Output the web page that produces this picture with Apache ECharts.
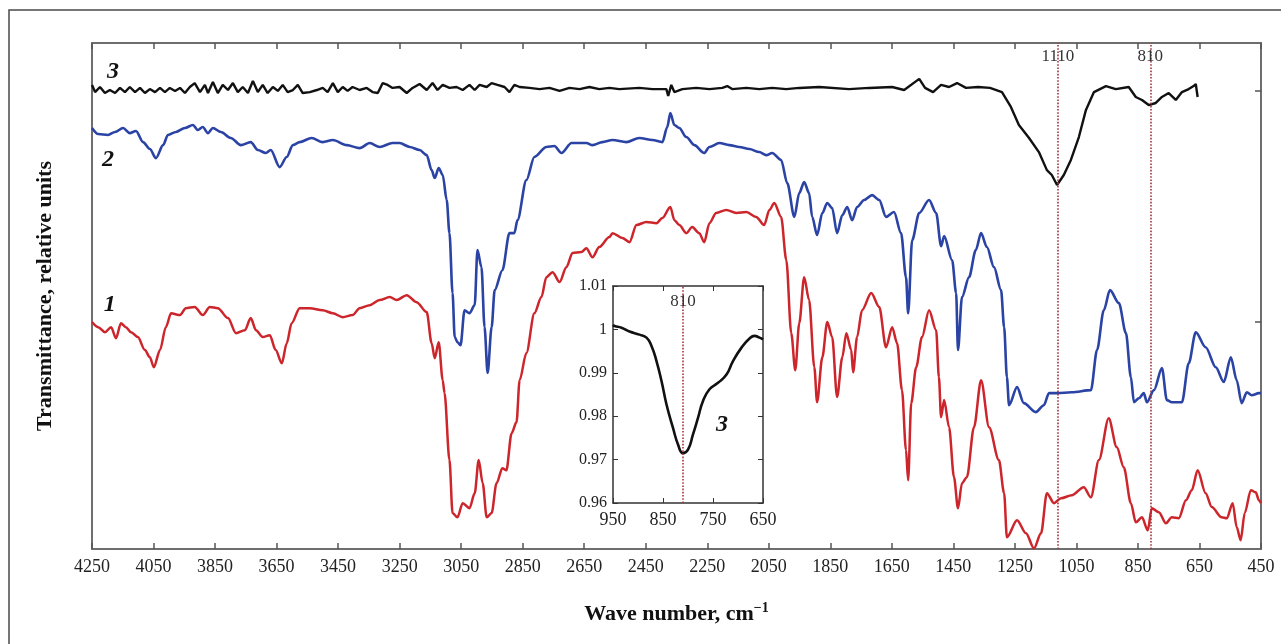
<!DOCTYPE html>
<html>
<head>
<meta charset="utf-8">
<title>IR spectra</title>
<script src="https://cdn.jsdelivr.net/npm/echarts@6/dist/echarts.min.js"></script>
<style>
  html, body { margin: 0; padding: 0; background: #fff; }
  #chart { width: 1281px; height: 644px; }
</style>
</head>
<body>
<div id="chart"></div>
<script>
// tick labels, cm-1
const xTicks = [4250, 4050, 3850, 3650, 3450, 3250, 3050, 2850, 2650, 2450, 2250, 2050, 1850, 1650, 1450, 1250, 1050, 850, 650, 450];
const insetTicks = [950, 850, 750, 650];
const rightTicks = [1, 2];
const markBands = [1110, 810];
const insetMark = [810];

// [wave number, transmittance (relative units)]
const curve1 = [[4250,1.000],[4230,0.978],[4208,0.956],[4188,0.978],[4172,0.930],[4156,0.995],[4140,0.978],[4123,0.956],[4101,0.935],[4078,0.879],
  [4062,0.848],[4049,0.805],[4029,0.879],[4010,0.978],[3993,1.038],[3964,1.030],[3945,1.060],[3916,1.065],[3890,1.030],[3867,1.065],
  [3841,1.060],[3808,1.017],[3782,0.952],[3753,0.965],[3734,1.017],[3717,0.965],[3695,0.935],[3672,0.943],[3653,0.879],[3633,0.822],
  [3617,0.909],[3601,0.995],[3575,1.060],[3542,1.060],[3500,1.051],[3467,1.038],[3435,1.021],[3403,1.030],[3380,1.060],[3347,1.073],
  [3315,1.095],[3282,1.108],[3260,1.095],[3227,1.116],[3195,1.086],[3162,1.043],[3146,0.909],[3136,0.844],[3123,0.913],[3110,0.749],
  [3104,0.693],[3088,0.404],[3078,0.175],[3062,0.157],[3045,0.218],[3023,0.196],[3006,0.261],[2993,0.404],[2980,0.304],[2967,0.157],
  [2951,0.175],[2935,0.304],[2916,0.369],[2903,0.360],[2886,0.520],[2870,0.568],[2860,0.749],[2838,0.866],[2812,1.038],[2789,1.108],
  [2773,1.194],[2753,1.215],[2730,1.173],[2708,1.237],[2688,1.298],[2659,1.302],[2643,1.319],[2623,1.280],[2601,1.324],[2568,1.367],
  [2558,1.384],[2526,1.363],[2503,1.345],[2480,1.419],[2448,1.432],[2415,1.427],[2396,1.449],[2370,1.497],[2357,1.440],[2341,1.419],
  [2318,1.384],[2299,1.410],[2276,1.384],[2260,1.345],[2243,1.427],[2221,1.471],[2188,1.484],[2156,1.471],[2123,1.475],[2091,1.454],
  [2065,1.419],[2048,1.484],[2032,1.514],[2010,1.454],[1993,1.267],[1977,0.952],[1964,0.792],[1951,0.995],[1935,1.194],[1919,1.095],
  [1902,0.805],[1893,0.654],[1876,0.848],[1860,1.000],[1844,0.935],[1828,0.676],[1811,0.848],[1798,0.952],[1782,0.879],[1776,0.783],
  [1763,0.935],[1747,1.051],[1717,1.125],[1691,1.065],[1669,0.891],[1649,0.978],[1633,0.909],[1617,0.706],[1604,0.447],[1597,0.317],
  [1587,0.650],[1571,0.805],[1552,0.935],[1529,1.051],[1506,0.965],[1497,0.762],[1490,0.589],[1480,0.663],[1464,0.546],[1448,0.330],
  [1435,0.196],[1422,0.304],[1406,0.330],[1383,0.546],[1360,0.749],[1334,0.546],[1302,0.404],[1285,0.261],[1276,0.071],[1243,0.144],
  [1214,0.088],[1188,0.023],[1165,0.088],[1146,0.261],[1123,0.218],[1100,0.239],[1065,0.252],[1026,0.287],[1003,0.243],[977,0.404],
  [945,0.585],[919,0.460],[896,0.373],[873,0.218],[857,0.135],[837,0.157],[818,0.101],[805,0.196],[782,0.179],[759,0.131],
  [740,0.157],[717,0.153],[694,0.231],[675,0.274],[656,0.360],[630,0.261],[610,0.201],[578,0.157],[561,0.153],[542,0.218],
  [529,0.114],[516,0.058],[503,0.175],[483,0.274],[467,0.265],[457,0.231],[450,0.218]];

const curve2 = [[4250,1.838],[4230,1.812],[4198,1.808],[4175,1.821],[4149,1.838],[4127,1.816],[4107,1.825],[4084,1.777],[4062,1.747],[4042,1.708],
  [4019,1.764],[4003,1.808],[3977,1.821],[3948,1.838],[3922,1.851],[3906,1.829],[3890,1.842],[3873,1.816],[3857,1.838],[3831,1.821],
  [3799,1.795],[3766,1.764],[3734,1.777],[3711,1.743],[3685,1.730],[3669,1.743],[3640,1.669],[3617,1.713],[3597,1.764],[3575,1.777],
  [3536,1.795],[3500,1.777],[3467,1.786],[3422,1.764],[3380,1.751],[3347,1.773],[3315,1.756],[3273,1.773],[3250,1.773],[3217,1.756],
  [3185,1.743],[3162,1.721],[3146,1.656],[3136,1.622],[3123,1.665],[3110,1.635],[3097,1.527],[3088,1.384],[3078,1.125],[3071,0.935],
  [3062,0.913],[3052,0.900],[3039,1.051],[3023,1.038],[3006,1.073],[2997,1.311],[2984,1.237],[2974,0.978],[2964,0.780],[2951,0.978],
  [2941,1.138],[2916,1.224],[2893,1.384],[2877,1.384],[2867,1.440],[2838,1.613],[2812,1.713],[2773,1.756],[2747,1.760],[2724,1.730],
  [2691,1.773],[2643,1.773],[2623,1.764],[2591,1.777],[2558,1.786],[2513,1.777],[2471,1.795],[2428,1.786],[2396,1.777],[2380,1.842],
  [2370,1.903],[2357,1.851],[2341,1.838],[2318,1.799],[2292,1.764],[2260,1.730],[2243,1.756],[2211,1.773],[2178,1.764],[2146,1.756],
  [2113,1.747],[2081,1.734],[2058,1.721],[2039,1.730],[2010,1.700],[1990,1.600],[1967,1.454],[1951,1.557],[1935,1.605],[1919,1.557],
  [1909,1.454],[1893,1.376],[1876,1.471],[1860,1.514],[1844,1.492],[1828,1.384],[1811,1.462],[1795,1.497],[1779,1.440],[1763,1.497],
  [1740,1.527],[1714,1.548],[1691,1.527],[1669,1.454],[1643,1.475],[1620,1.384],[1604,1.194],[1597,1.038],[1584,1.354],[1561,1.471],
  [1529,1.527],[1506,1.471],[1490,1.328],[1480,1.371],[1454,1.267],[1441,1.125],[1435,0.879],[1422,1.108],[1399,1.194],[1377,1.311],
  [1360,1.384],[1341,1.324],[1318,1.237],[1295,1.138],[1285,0.978],[1276,0.762],[1269,0.641],[1243,0.719],[1221,0.650],[1182,0.611],
  [1156,0.641],[1139,0.693],[1113,0.693],[1065,0.697],[1003,0.706],[983,0.879],[961,1.051],[941,1.138],[912,1.082],[889,0.952],
  [873,0.762],[863,0.654],[847,0.671],[831,0.693],[821,0.654],[798,0.706],[772,0.801],[756,0.663],[740,0.654],[707,0.654],
  [685,0.822],[662,0.956],[630,0.891],[597,0.805],[571,0.741],[548,0.848],[529,0.749],[513,0.650],[496,0.697],[480,0.684],
  [457,0.693],[450,0.693]];

const curve3 = [[4250,2.024],[4240,1.993],[4224,2.015],[4208,1.989],[4192,2.002],[4175,1.989],[4159,2.011],[4143,1.993],[4127,2.015],[4110,1.993],
  [4094,2.011],[4078,1.989],[4062,2.006],[4045,1.993],[4029,2.011],[4013,1.993],[3997,2.011],[3980,1.998],[3964,2.011],[3948,1.989],
  [3932,2.015],[3916,2.032],[3899,1.993],[3883,2.024],[3873,1.989],[3857,2.037],[3841,1.989],[3825,2.024],[3808,2.002],[3792,2.032],
  [3776,1.993],[3760,2.015],[3743,1.989],[3727,2.041],[3711,1.993],[3695,2.024],[3679,1.989],[3662,2.015],[3646,1.998],[3630,2.024],
  [3614,1.993],[3597,2.002],[3581,2.024],[3565,1.989],[3542,1.993],[3519,2.002],[3500,2.011],[3484,1.993],[3467,2.032],[3451,1.993],
  [3435,2.015],[3419,1.998],[3403,2.015],[3380,2.002],[3357,2.011],[3338,1.993],[3321,1.989],[3305,2.032],[3289,2.024],[3273,2.011],
  [3250,2.015],[3227,1.989],[3208,2.011],[3185,2.028],[3162,2.002],[3143,2.032],[3127,2.002],[3110,2.024],[3088,2.011],[3065,2.015],
  [3045,2.002],[3023,2.024],[3006,2.002],[2990,2.024],[2967,2.015],[2951,2.032],[2932,2.024],[2909,2.015],[2893,1.993],[2877,2.024],
  [2860,2.015],[2828,2.011],[2795,2.006],[2763,2.011],[2730,1.998],[2698,2.011],[2665,2.006],[2633,2.015],[2601,2.006],[2568,2.011],
  [2536,2.006],[2471,2.011],[2428,2.006],[2383,2.006],[2377,1.976],[2367,2.024],[2357,1.993],[2331,2.006],[2286,2.011],[2243,2.006],
  [2201,2.011],[2185,2.019],[2169,2.006],[2123,2.011],[2081,2.006],[2039,2.011],[1993,2.006],[1951,2.011],[1886,2.015],[1789,2.006],
  [1724,2.011],[1649,2.015],[1610,2.002],[1561,2.050],[1542,2.011],[1516,1.993],[1490,2.024],[1464,2.015],[1438,2.032],[1409,2.011],
  [1370,2.015],[1331,2.011],[1292,1.993],[1263,1.929],[1237,1.851],[1204,1.795],[1172,1.734],[1146,1.656],[1130,1.635],[1113,1.592],
  [1091,1.635],[1068,1.700],[1042,1.799],[1019,1.916],[993,1.993],[954,2.019],[922,2.006],[880,2.015],[857,1.972],[837,1.959],
  [815,1.937],[792,1.946],[772,1.972],[750,1.989],[727,1.959],[707,1.993],[685,2.006],[669,2.019],[662,2.028],[656,1.972]];

// inset: curve 3 around 810 cm-1
const insetCurve = [[950,1.0010],[947,1.0008],[933,1.0004],[917,0.9995],[897,0.9988],[883,0.9981],[873,0.9962],[863,0.9927],[853,0.9881],[843,0.9827],
  [830,0.9773],[820,0.9735],[810,0.9715],[800,0.9723],[790,0.9758],[780,0.9796],[770,0.9835],[757,0.9862],[740,0.9877],[723,0.9896],
  [710,0.9927],[693,0.9958],[677,0.9979],[667,0.9985],[657,0.9981],[650,0.9977]];

const serif = '"Liberation Serif", "Times New Roman", serif';

const chart = echarts.init(document.getElementById('chart'));

const frame = { show: true, onZero: false, lineStyle: { color: '#6e6e6e', width: 2 } };
const insetFrame = { show: true, onZero: false, lineStyle: { color: '#333', width: 1.5 } };
const tickStyle = { color: '#555', width: 1.5 };

// plain numbers, no thousands separator
function plain(v) { return String(v); }

function numberLabel(text, coord) {
  return {
    silent: true,
    symbol: 'circle',
    symbolSize: 1,
    itemStyle: { color: 'rgba(0,0,0,0)' },
    label: {
      show: true, position: 'inside', formatter: text,
      fontFamily: serif, fontSize: 24, fontStyle: 'italic', fontWeight: 'bold', color: '#111'
    },
    data: [{ coord: coord }]
  };
}

function dottedMarks(values, fontSize, dist) {
  return {
    silent: true,
    symbol: 'none',
    lineStyle: { type: 'dotted', color: '#a3323a', width: 1.6 },
    label: {
      show: true, position: 'end', distance: dist, formatter: '{b}',
      fontFamily: serif, fontSize: fontSize, color: '#333'
    },
    emphasis: { disabled: true },
    data: values.map(function (v) { return { xAxis: v, name: String(v) }; })
  };
}

var option = {
  backgroundColor: '#ffffff',
  animation: false,
  graphic: [{
    type: 'rect', silent: true,
    shape: { x: 9, y: 10, width: 1300, height: 700 },
    style: { fill: 'transparent', stroke: '#4a4a4a', lineWidth: 1.5 }
  }],
  grid: [
    { left: 92, top: 43, right: 20, bottom: 95 },
    { left: 613, top: 286, width: 150, height: 217, show: true, backgroundColor: '#fff', borderWidth: 0 }
  ],
  xAxis: [
    {
      gridIndex: 0, type: 'value', position: 'bottom', inverse: true, min: 450, max: 4250,
      axisLine: frame,
      axisTick: { inside: true, length: 6, customValues: xTicks, lineStyle: tickStyle },
      axisLabel: { customValues: xTicks, formatter: plain, fontFamily: serif, fontSize: 18, color: '#222', margin: 9 },
      splitLine: { show: false },
      name: '{t|Wave number, cm}{s|\u22121}',
      nameLocation: 'middle',
      nameGap: 52,
      nameTextStyle: {
        rich: {
          t: { fontFamily: serif, fontSize: 22, fontWeight: 'bold', color: '#111', lineHeight: 26 },
          s: { fontFamily: serif, fontSize: 14, fontWeight: 'bold', color: '#111', lineHeight: 14, verticalAlign: 'top' }
        }
      }
    },
    {
      gridIndex: 0, type: 'value', position: 'top', inverse: true, min: 450, max: 4250,
      axisLine: frame,
      axisTick: { inside: true, length: 6, customValues: xTicks, lineStyle: tickStyle },
      axisLabel: { show: false },
      splitLine: { show: false }
    },
    {
      gridIndex: 1, type: 'value', position: 'bottom', inverse: true, min: 650, max: 950,
      axisLine: insetFrame,
      axisTick: { inside: true, length: 5, customValues: insetTicks, lineStyle: { color: '#333' } },
      axisLabel: { customValues: insetTicks, formatter: plain, fontFamily: serif, fontSize: 18, color: '#222', margin: 8 },
      splitLine: { show: false }
    },
    {
      gridIndex: 1, type: 'value', position: 'top', inverse: true, min: 650, max: 950,
      axisLine: insetFrame,
      axisTick: { inside: true, length: 5, customValues: insetTicks, lineStyle: { color: '#333' } },
      axisLabel: { show: false },
      splitLine: { show: false }
    }
  ],
  yAxis: [
    {
      gridIndex: 0, type: 'value', position: 'left', min: 0.02, max: 2.205,
      axisLine: frame,
      axisTick: { show: false },
      axisLabel: { show: false },
      splitLine: { show: false },
      name: 'Transmittance, relative units',
      nameLocation: 'middle',
      nameGap: 36,
      nameTextStyle: { fontFamily: serif, fontSize: 22, fontWeight: 'bold', color: '#111' }
    },
    {
      gridIndex: 0, type: 'value', position: 'right', min: 0.02, max: 2.205,
      axisLine: frame,
      axisTick: { inside: true, length: 6, customValues: rightTicks, lineStyle: tickStyle },
      axisLabel: { show: false },
      splitLine: { show: false }
    },
    {
      gridIndex: 1, type: 'value', position: 'left', min: 0.96, max: 1.01, interval: 0.01,
      axisLine: insetFrame,
      axisTick: { inside: true, length: 5, lineStyle: { color: '#333' } },
      axisLabel: {
        fontFamily: serif, fontSize: 16, color: '#222', margin: 6,
        formatter: function (v) { return String(+v.toFixed(2)); }
      },
      splitLine: { show: false }
    },
    {
      gridIndex: 1, type: 'value', position: 'right', min: 0.96, max: 1.01, interval: 0.01,
      axisLine: insetFrame,
      axisTick: { inside: true, length: 5, lineStyle: { color: '#333' } },
      axisLabel: { show: false },
      splitLine: { show: false }
    }
  ],
  series: [
    {
      name: '3', type: 'line', xAxisIndex: 0, yAxisIndex: 0,
      data: curve3, showSymbol: false,
      lineStyle: { color: '#111', width: 2.4 },
      markPoint: numberLabel('3', [4182, 2.080])
    },
    {
      name: '2', type: 'line', xAxisIndex: 0, yAxisIndex: 0,
      data: curve2, showSymbol: false, smooth: 0.3, smoothMonotone: 'x',
      lineStyle: { color: '#2a43a4', width: 2.6 },
      markPoint: numberLabel('2', [4198, 1.700])
    },
    {
      name: '1', type: 'line', xAxisIndex: 0, yAxisIndex: 0,
      data: curve1, showSymbol: false, smooth: 0.3, smoothMonotone: 'x',
      lineStyle: { color: '#cc252b', width: 2.5 },
      markLine: dottedMarks(markBands, 17, -22),
      markPoint: numberLabel('1', [4192, 1.073])
    },
    {
      name: 'inset', type: 'line', xAxisIndex: 2, yAxisIndex: 2,
      data: insetCurve, showSymbol: false, smooth: true,
      lineStyle: { color: '#111', width: 2.6 },
      markLine: dottedMarks(insetMark, 17, -24),
      markPoint: numberLabel('3', [732, 0.978])
    }
  ]
};

chart.setOption(option);
</script>
</body>
</html>
